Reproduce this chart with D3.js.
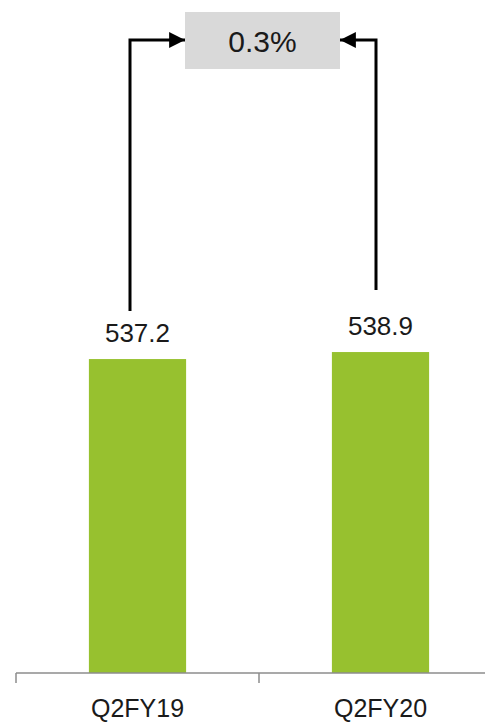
<!DOCTYPE html>
<html>
<head>
<meta charset="utf-8">
<script src="https://cdn.jsdelivr.net/npm/d3@7"></script>
<style>
  html, body { margin: 0; padding: 0; background: #ffffff; }
  svg { display: block; }
  text { font-family: "Liberation Sans", Arial, sans-serif; fill: #1a1a1a; }
</style>
</head>
<body>
<svg id="chart" width="485" height="723"></svg>
<script>
// Quarterly values
const categories = ["Q2FY19", "Q2FY20"];
const values = [537.2, 538.9];
const changeLabel = ((values[1] / values[0] - 1) * 100).toFixed(1) + "%";

const svg = d3.select("#chart");
const baseY = 673;

const x = d3.scaleBand()
  .domain(categories)
  .range([16, 502])
  .paddingInner(0.6)
  .paddingOuter(0.3);

const y = d3.scaleLinear()
  .domain([461, 540])
  .range([baseY, baseY - 79 * 4.12]);

// Bars
svg.append("g").selectAll("rect")
  .data(values)
  .join("rect")
  .attr("x", (d, i) => x(categories[i]))
  .attr("width", x.bandwidth())
  .attr("y", d => y(d))
  .attr("height", d => baseY - y(d))
  .attr("fill", "#97c12f");

// Value labels
svg.append("g").selectAll("text")
  .data(values)
  .join("text")
  .attr("x", (d, i) => x(categories[i]) + x.bandwidth() / 2)
  .attr("y", d => y(d) - 17)
  .attr("text-anchor", "middle")
  .attr("font-size", 26)
  .text(d => d.toFixed(1));

// Category axis with ticks at band boundaries
const axisG = svg.append("g");
axisG.append("line")
  .attr("x1", 16).attr("x2", 502)
  .attr("y1", baseY).attr("y2", baseY)
  .attr("stroke", "#8c8c8c").attr("stroke-width", 1.5);
const bounds = [16, 16 + x.step(), 16 + 2 * x.step()];
axisG.selectAll("line.tick")
  .data(bounds)
  .join("line")
  .attr("class", "tick")
  .attr("x1", d => d).attr("x2", d => d)
  .attr("y1", baseY).attr("y2", baseY + 10)
  .attr("stroke", "#8c8c8c").attr("stroke-width", 1.5);
axisG.selectAll("text")
  .data(categories)
  .join("text")
  .attr("x", d => x(d) + x.bandwidth() / 2)
  .attr("y", 717)
  .attr("text-anchor", "middle")
  .attr("font-size", 25)
  .text(d => d);

// Change box
const box = { x: 185, y: 12, w: 155, h: 57 };
svg.append("rect")
  .attr("x", box.x).attr("y", box.y)
  .attr("width", box.w).attr("height", box.h)
  .attr("fill", "#d9d9d9");
svg.append("text")
  .attr("x", box.x + box.w / 2)
  .attr("y", 52)
  .attr("text-anchor", "middle")
  .attr("font-size", 30)
  .text(changeLabel);

// Elbow connectors from each bar label up to the box
svg.append("defs").append("marker")
  .attr("id", "arrow")
  .attr("viewBox", "0 0 10 10")
  .attr("refX", 10).attr("refY", 5)
  .attr("markerWidth", 5.3).attr("markerHeight", 5.3)
  .attr("markerUnits", "strokeWidth")
  .attr("orient", "auto")
  .append("path")
  .attr("d", "M0,0 L10,5 L0,10 Z")
  .attr("fill", "#000");

const lineY = 40;
const connectors = [
  { x: 130, bottom: y(values[0]) - 48, tip: box.x },
  { x: 376, bottom: y(values[1]) - 62, tip: box.x + box.w }
];
svg.append("g").selectAll("path")
  .data(connectors)
  .join("path")
  .attr("d", d => `M${d.x},${d.bottom} L${d.x},${lineY} L${d.tip},${lineY}`)
  .attr("fill", "none")
  .attr("stroke", "#000")
  .attr("stroke-width", 3)
  .attr("marker-end", "url(#arrow)");
</script>
</body>
</html>
